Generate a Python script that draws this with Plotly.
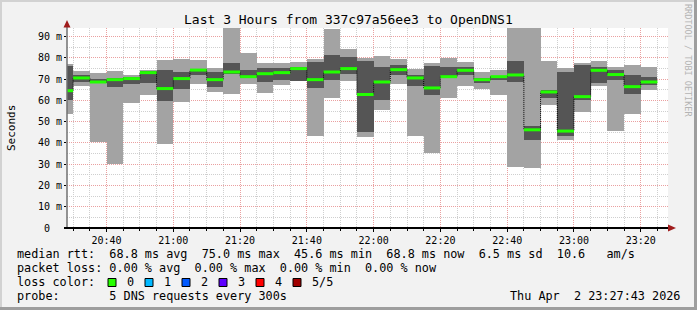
import plotly.graph_objects as go
import pandas as pd

# ---------------- data ----------------
day = "2026-04-02"
slot_start = ["20:25", "20:30", "20:35", "20:40", "20:45", "20:50", "20:55",
              "21:00", "21:05", "21:10", "21:15", "21:20", "21:25", "21:30",
              "21:35", "21:40", "21:45", "21:50", "21:55", "22:00", "22:05",
              "22:10", "22:15", "22:20", "22:25", "22:30", "22:35", "22:40",
              "22:45", "22:50", "22:55", "23:00", "23:05", "23:10", "23:15",
              "23:20"]
# sorted pings per 5-minute slot (ms)
rtt_min = [53.7, 67.0, 40.5, 29.9, 59.0, 62.6, 39.7, 59.4, 67.8, 64.2, 63.1, 67.8,
           63.6, 67.5, 69.2, 43.1, 61.2, 69.2, 42.6, 55.6, 67.8, 43.1, 35.1, 61.2,
           66.8, 65.6, 62.6, 28.5, 28.0, 58.1, 41.2, 54.6, 66.8, 45.7, 53.7, 65.0]
rtt_low = [60.0, 68.7, 68.1, 66.4, 67.8, 68.2, 59.8, 65.5, 72.0, 66.4, 72.6, 70.4,
           68.8, 69.5, 69.4, 65.9, 69.5, 72.5, 45.2, 60.3, 72.0, 66.8, 62.8, 70.6,
           71.8, 68.4, 69.5, 68.9, 41.2, 61.2, 43.1, 60.3, 68.4, 69.7, 63.1, 67.5]
rtt_median = [64.6, 70.6, 68.7, 69.8, 70.3, 73.1, 65.6, 70.3, 74.3, 69.8, 73.4, 71.2,
              72.6, 73.1, 75.0, 69.8, 73.4, 75.0, 62.8, 68.7, 74.5, 70.6, 65.9, 71.2,
              74.2, 69.8, 71.2, 72.0, 46.2, 64.0, 45.6, 61.8, 74.2, 72.2, 66.5, 68.7]
rtt_high = [76.2, 71.9, 70.1, 70.5, 70.9, 74.0, 74.4, 73.4, 75.0, 73.4, 77.6, 74.4,
            75.2, 75.1, 75.6, 78.1, 81.4, 80.5, 78.6, 75.8, 76.7, 72.0, 76.2, 75.8,
            75.8, 70.4, 71.7, 78.6, 48.1, 65.0, 73.4, 76.7, 75.8, 74.4, 72.0, 71.1]
rtt_max = [77.2, 74.0, 73.1, 74.0, 72.0, 74.4, 79.1, 79.7, 79.0, 75.3, 100.0, 82.3,
           77.6, 77.6, 78.1, 79.7, 93.6, 84.2, 80.0, 80.8, 79.5, 74.8, 77.5, 80.0,
           78.1, 73.4, 74.5, 100.0, 100.0, 78.6, 75.3, 77.6, 78.6, 75.8, 76.7, 75.8]

y_tickvals = [0, 10, 20, 30, 40, 50, 60, 70, 80, 90]
y_ticktext = ["0\u00a0\u00a0", "10 m", "20 m", "30 m", "40 m", "50 m", "60 m",
              "70 m", "80 m", "90 m"]

title_text = "Last 3 Hours from 337c97a56ee3 to OpenDNS1"
legend_rows = [
    "median rtt:  68.8 ms avg  75.0 ms max  45.6 ms min  68.8 ms now  6.5 ms sd  10.6   am/s",
    "packet loss: 0.00 % avg  0.00 % max  0.00 % min  0.00 % now",
    "loss color:",
    "probe:       5 DNS requests every 300s",
]
loss_labels = ["0", "1", "2", "3", "4", "5/5"]
loss_colors = ["#26ff00", "#00b8ff", "#0059ff", "#5e00ff", "#ff0000", "#a00000"]
stamp = "Thu Apr  2 23:27:43 2026"

# ---------------- derived ----------------
slot = pd.Timedelta(minutes=5)
starts = [pd.Timestamp(f"{day} {s}") for s in slot_start]
ends = [s + slot for s in starts]
centers = [s + slot / 2 for s in starts]

W, H = 697, 310
L, R, T, B = 67, 668, 28, 228


def px(x):
    return (x - L) / (R - L)


def py(y):
    return (B - y) / (B - T)


def nb(s):
    return s.replace(" ", "\u00a0")


MONO = "DejaVu Sans Mono"
LEG = 11.8

fig = go.Figure()

fig.add_trace(go.Bar(
    x=centers, y=[b - a for a, b in zip(rtt_min, rtt_max)], base=rtt_min,
    width=300000, marker=dict(color="#a3a3a3", line=dict(width=0)),
    hoverinfo="skip"))
fig.add_trace(go.Bar(
    x=centers, y=[b - a for a, b in zip(rtt_low, rtt_high)], base=rtt_low,
    width=300000, marker=dict(color="#555555", line=dict(width=0)),
    hoverinfo="skip"))

# median step connector (black dotted)
fig.add_trace(go.Scatter(
    x=starts + [ends[-1]], y=rtt_median + [rtt_median[-1]],
    mode="lines", line=dict(shape="hv", color="#000000", width=1, dash="1px,1px"),
    hoverinfo="skip"))

# green median segments
gx, gy = [], []
for s, e, m in zip(starts, ends, rtt_median):
    gx += [s, e, None]
    gy += [m, m, None]
fig.add_trace(go.Scatter(x=gx, y=gy, mode="lines",
                         line=dict(color="#22ff00", width=3), hoverinfo="skip"))

fig.update_layout(
    width=W, height=H,
    margin=dict(l=L, r=W - R, t=T, b=H - B, pad=0),
    paper_bgcolor="#f2f2f2", plot_bgcolor="#ffffff",
    showlegend=False, barmode="overlay", bargap=0,
    font=dict(family=MONO, color="#000000"),
)

fig.update_xaxes(
    type="date",
    range=[f"{day} 20:28:10", f"{day} 23:28:10"],
    tick0=f"{day} 20:00:00", dtick=1200000, tickformat="%H:%M",
    showgrid=True, gridcolor="#eaa0a0", griddash="1px,1px", gridwidth=1,
    minor=dict(dtick=300000, showgrid=True, gridcolor="#cfcfcf",
               griddash="1px,1px", ticks="outside", ticklen=2, tickcolor="#000"),
    ticks="outside", ticklen=3, tickcolor="#000000",
    tickfont=dict(family=MONO, size=10, color="#000000"),
    showline=False, zeroline=False, fixedrange=True,
)
fig.update_yaxes(
    range=[0, 94.1],
    tickvals=y_tickvals, ticktext=y_ticktext,
    showgrid=True, gridcolor="#eaa0a0", griddash="1px,1px", gridwidth=1,
    minor=dict(dtick=5, showgrid=True, gridcolor="#cfcfcf", griddash="1px,1px"),
    ticks="outside", ticklen=2, tickcolor="#000000",
    tickfont=dict(family=MONO, size=10, color="#000000"),
    showline=False, zeroline=False, fixedrange=True,
)

shapes = []
# frame of the image
shapes.append(dict(type="rect", xref="paper", yref="paper", x0=px(0), x1=px(2),
                   y0=py(0), y1=py(H), fillcolor="#d2d2d2", line=dict(width=0)))
shapes.append(dict(type="rect", xref="paper", yref="paper", x0=px(0), x1=px(W),
                   y0=py(0), y1=py(2), fillcolor="#d2d2d2", line=dict(width=0)))
shapes.append(dict(type="rect", xref="paper", yref="paper", x0=px(694), x1=px(W),
                   y0=py(0), y1=py(H), fillcolor="#9e9e9e", line=dict(width=0)))
shapes.append(dict(type="rect", xref="paper", yref="paper", x0=px(0), x1=px(W),
                   y0=py(307), y1=py(H), fillcolor="#9e9e9e", line=dict(width=0)))
# axes
shapes.append(dict(type="line", xref="paper", yref="paper", x0=px(67), x1=px(67),
                   y0=py(228), y1=py(24), line=dict(color="#707070", width=1.5)))
shapes.append(dict(type="line", xref="paper", yref="paper", x0=px(64), x1=px(670),
                   y0=py(228), y1=py(228), line=dict(color="#000000", width=2)))


def ppath(points):
    return "M " + " L ".join(f"{px(a)},{py(b)}" for a, b in points) + " Z"


shapes.append(dict(type="path", xref="paper", yref="paper",
                   path=ppath([(668, 224.5), (676, 228), (668, 231.5)]),
                   fillcolor="#a01c1c", line=dict(width=0)))
shapes.append(dict(type="path", xref="paper", yref="paper",
                   path=ppath([(63.5, 27.5), (67, 20), (70.5, 27.5)]),
                   fillcolor="#a01c1c", line=dict(width=0)))

annotations = []
annotations.append(dict(text=title_text, xref="paper", yref="paper",
                        x=px(348.5), y=py(19), xanchor="center", yanchor="middle",
                        showarrow=False, font=dict(family=MONO, size=13, color="#000")))
annotations.append(dict(text="Seconds", xref="paper", yref="paper",
                        x=px(11), y=py(128), xanchor="center", yanchor="middle",
                        textangle=-90, showarrow=False,
                        font=dict(family=MONO, size=11, color="#000")))
annotations.append(dict(text=nb("RRDTOOL / TOBI OETIKER"), xref="paper", yref="paper",
                        x=px(688), y=py(60), xanchor="center", yanchor="middle",
                        textangle=90, showarrow=False,
                        font=dict(family=MONO, size=8.5, color="#b4b4b4")))

row_y = [254, 268, 282, 296]
for txt, yy in zip(legend_rows, row_y):
    annotations.append(dict(text=nb(txt), xref="paper", yref="paper",
                            x=px(15), y=py(yy), xanchor="left", yanchor="middle",
                            showarrow=False,
                            font=dict(family=MONO, size=LEG, color="#000")))
annotations.append(dict(text=nb(stamp), xref="paper", yref="paper",
                        x=px(682), y=py(296), xanchor="right", yanchor="middle",
                        showarrow=False, font=dict(family=MONO, size=LEG, color="#000")))

box_x = [108, 145, 182, 219, 256, 293]
for bx, lab, col in zip(box_x, loss_labels, loss_colors):
    shapes.append(dict(type="rect", xref="paper", yref="paper",
                       x0=px(bx), x1=px(bx + 8), y0=py(286.5), y1=py(278.5),
                       fillcolor=col, line=dict(color="#000000", width=1)))
    annotations.append(dict(text=lab, xref="paper", yref="paper",
                            x=px(bx + 17), y=py(282), xanchor="left", yanchor="middle",
                            showarrow=False,
                            font=dict(family=MONO, size=LEG, color="#000")))

fig.update_layout(shapes=shapes, annotations=annotations)

fig.write_html("out.html")
